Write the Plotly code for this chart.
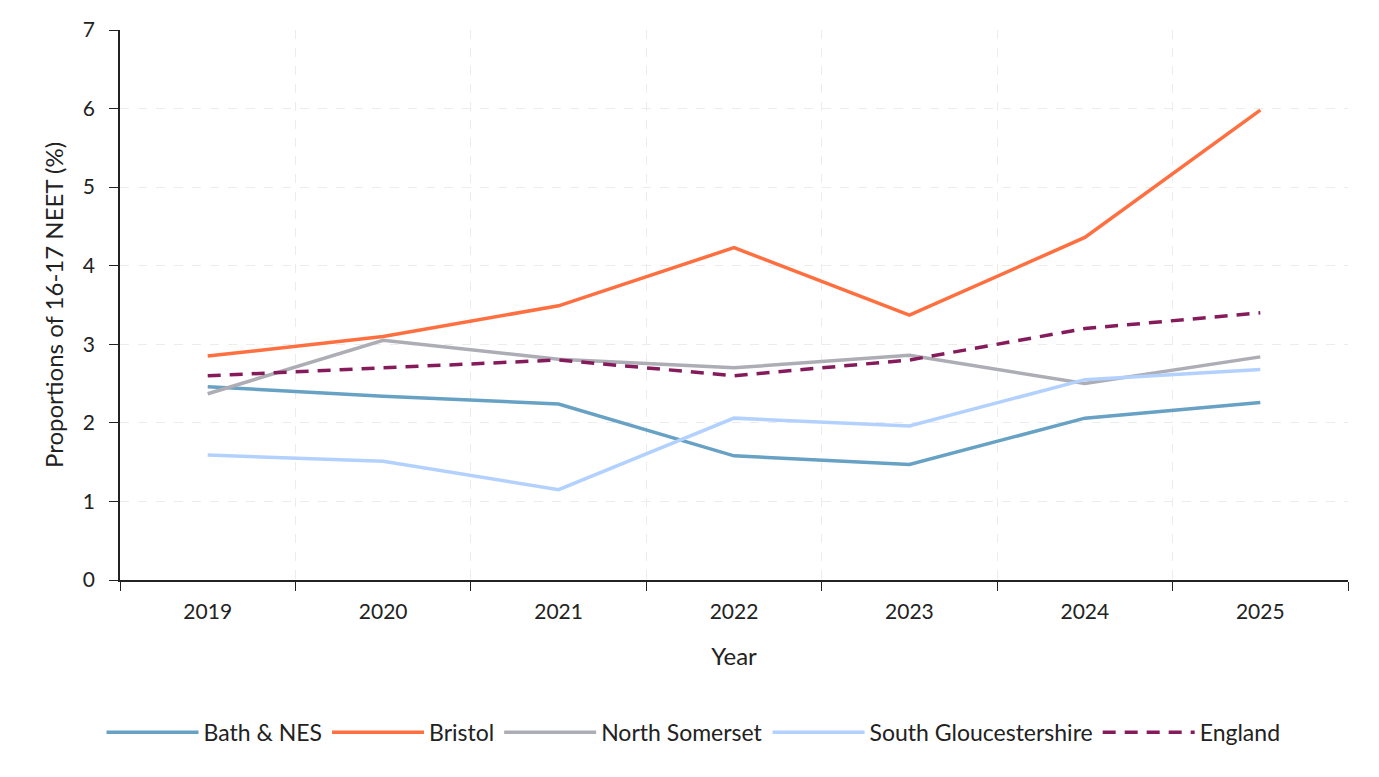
import plotly.graph_objects as go

years = ["2019", "2020", "2021", "2022", "2023", "2024", "2025"]

bath_nes = [2.46, 2.34, 2.24, 1.58, 1.47, 2.06, 2.26]
bristol = [2.85, 3.10, 3.49, 4.23, 3.37, 4.36, 5.98]
north_somerset = [2.37, 3.05, 2.81, 2.70, 2.86, 2.50, 2.84]
south_glos = [1.59, 1.51, 1.15, 2.06, 1.96, 2.55, 2.68]
england = [2.6, 2.7, 2.8, 2.6, 2.8, 3.2, 3.4]

y_ticks = [0, 1, 2, 3, 4, 5, 6, 7]

FONT = "Lato, 'Noto Sans', sans-serif"
TEXT_COLOR = "#222222"

series = [
    ("Bath & NES", bath_nes, "#67A1C4", "solid"),
    ("Bristol", bristol, "#FF6F3F", "solid"),
    ("North Somerset", north_somerset, "#ADADB5", "solid"),
    ("South Gloucestershire", south_glos, "#B3D1FF", "solid"),
    ("England", england, "#851B5A", "13px,9px"),
]

fig = go.Figure()

for name, values, color, dash in series:
    fig.add_trace(go.Scatter(
        x=years,
        y=values,
        mode="lines",
        name=name,
        line=dict(color=color, width=3.5, dash=dash),
    ))

# page body adds an 8px offset, so the figure is a bit smaller than the window
fig.update_layout(
    width=1371,
    height=769,
    plot_bgcolor="white",
    paper_bgcolor="white",
    font=dict(family=FONT, size=21, color=TEXT_COLOR),
    margin=dict(l=112, r=31, t=22, b=197),
    legend=dict(
        orientation="h",
        x=0.5,
        xref="container",
        xanchor="center",
        y=0.058,
        yref="container",
        yanchor="middle",
        font=dict(size=23),
        itemwidth=92,
    ),
    xaxis=dict(
        type="category",
        range=[-0.5, 6.5],
        tickson="boundaries",
        ticks="outside",
        ticklen=9,
        tickcolor="#222222",
        showline=True,
        linecolor="#222222",
        linewidth=1.5,
        showgrid=True,
        gridcolor="#ECECEC",
        griddash="dash",
        automargin=False,
        ticklabelstandoff=12,
        title=dict(text="Year", font=dict(size=24), standoff=26),
        tickfont=dict(size=21),
    ),
    yaxis=dict(
        range=[0, 7],
        tickvals=y_ticks,
        ticks="outside",
        ticklen=9,
        tickcolor="#222222",
        showline=True,
        linecolor="#222222",
        linewidth=1.5,
        showgrid=True,
        gridcolor="#ECECEC",
        griddash="dash",
        zeroline=False,
        automargin=False,
        ticklabelstandoff=10,
        title=dict(text="Proportions of 16-17 NEET (%)", font=dict(size=24), standoff=12),
        tickfont=dict(size=21),
    ),
)

fig.write_html("out.html")
